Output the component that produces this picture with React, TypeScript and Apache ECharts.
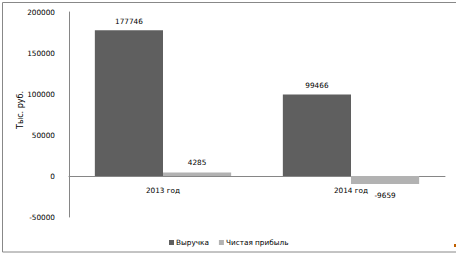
import React, { useEffect, useRef } from "react";
import * as echarts from "echarts";

const categories = ["2013 год", "2014 год"];
const revenue = [177746, 99466];
const netProfit = [4285, -9659];
const seriesNames = ["Выручка", "Чистая прибыль"];
const yTicks = { min: -50000, max: 200000, interval: 50000 };
const yTitle = "Тыс. руб.";

const FONT = "'DejaVu Sans', sans-serif";
const FS = 7.3;

export default function App() {
  const ref = useRef<HTMLDivElement>(null);
  useEffect(() => {
    if (!ref.current) return;
    const chart = echarts.init(ref.current, null, { renderer: "svg" });
    chart.setOption({
      animation: false,
      backgroundColor: "#ffffff",
      textStyle: { fontFamily: FONT },
      grid: { left: 69, right: 11, top: 12, bottom: 37, containLabel: false },
      legend: {
        data: seriesNames,
        left: 164,
        top: 234,
        itemWidth: 5,
        itemHeight: 5,
        itemGap: 10,
        icon: "rect",
        textStyle: { fontSize: FS, color: "#000", fontFamily: FONT, padding: [0, 0, 0, -3] },
      },
      xAxis: {
        type: "category",
        data: categories,
        axisLine: { onZero: true, lineStyle: { color: "#868686", width: 1 } },
        axisTick: { show: false },
        axisLabel: { color: "#000", fontSize: FS, margin: -30, fontFamily: FONT },
      },
      yAxis: {
        type: "value",
        min: yTicks.min,
        max: yTicks.max,
        interval: yTicks.interval,
        axisLine: { show: true, lineStyle: { color: "#868686", width: 1 } },
        axisTick: { show: false },
        splitLine: { show: false },
        axisLabel: {
          color: "#000",
          fontSize: FS,
          margin: 14,
          fontFamily: FONT,
          formatter: (v: number) => String(v),
        },
      },
      series: [
        {
          name: seriesNames[0],
          type: "bar",
          data: revenue,
          barGap: "0%",
          barCategoryGap: "27.5%",
          itemStyle: { color: "#5f5f5f" },
          label: { show: true, position: "top", distance: 5, color: "#000", fontSize: FS, fontFamily: FONT },
        },
        {
          name: seriesNames[1],
          type: "bar",
          data: netProfit.map((v) => ({
            value: v,
            label: v < 0 ? { position: "bottom", distance: 8 } : { position: "top", distance: 6 },
          })),
          itemStyle: { color: "#b2b2b2" },
          label: { show: true, position: "top", color: "#000", fontSize: FS, fontFamily: FONT },
        },
      ],
      graphic: [
        {
          type: "rect",
          shape: { x: 2.5, y: 2.5, width: 460, height: 249.5 },
          style: { fill: "none", stroke: "#888888", lineWidth: 1 },
          silent: true,
        },
        {
          type: "text",
          x: 20,
          y: 110,
          rotation: Math.PI / 2,
          style: {
            text: yTitle,
            fontSize: 8,
            fontFamily: FONT,
            fill: "#000",
            align: "center",
            verticalAlign: "middle",
          },
        },
        {
          type: "rect",
          shape: { x: 454, y: 244, width: 2, height: 3 },
          style: { fill: "#c06000" },
          silent: true,
        },
      ],
    });
    return () => chart.dispose();
  }, []);
  return (
    <div
      ref={ref}
      style={{ position: "absolute", left: 0, top: 0, width: 456, height: 254 }}
    />
  );
}
